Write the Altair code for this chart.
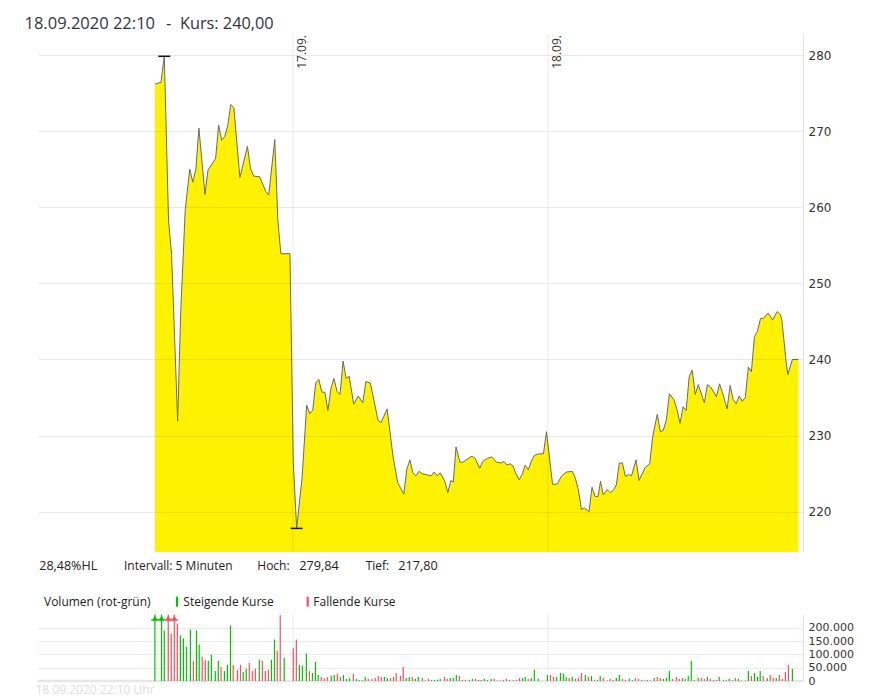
import altair as alt
import pandas as pd

# ---------------- data ----------------
# time axis: minutes of trading time since 16.09. 08:00 (three days of 840 min)
day_start = [840, 1680]
day_label = ["17.09.", "18.09."]

price_t = [385, 405, 416, 430, 440, 460, 470, 485, 500, 510,
           520, 530, 550, 560, 585, 595, 605, 615, 625, 635,
           645, 665, 690, 700, 710, 730, 750, 760, 780, 790,
           800, 830, 841, 852, 870, 885, 895, 905, 915, 925,
           935, 945, 955, 965, 975, 985, 995, 1005, 1015, 1025,
           1040, 1055, 1070, 1080, 1095, 1120, 1130, 1150, 1170, 1185,
           1205, 1215, 1225, 1235, 1245, 1255, 1265, 1295, 1305, 1315,
           1325, 1340, 1350, 1360, 1368, 1377, 1390, 1400, 1410, 1430,
           1440, 1455, 1465, 1480, 1495, 1510, 1525, 1535, 1545, 1555,
           1565, 1575, 1585, 1595, 1605, 1615, 1625, 1635, 1650, 1665,
           1675, 1695, 1710, 1725, 1740, 1760, 1770, 1780, 1790, 1800,
           1815, 1825, 1835, 1845, 1853, 1862, 1875, 1885, 1895, 1905,
           1915, 1925, 1935, 1945, 1955, 1970, 1980, 2000, 2015, 2025,
           2040, 2050, 2060, 2070, 2080, 2095, 2105, 2115, 2125, 2135,
           2145, 2155, 2165, 2175, 2195, 2205, 2215, 2235, 2245, 2255,
           2270, 2280, 2290, 2300, 2310, 2320, 2330, 2340, 2350, 2360,
           2370, 2380, 2390, 2405, 2420, 2435, 2445, 2450, 2465, 2470,
           2485, 2505]
price = [276.2, 276.4, 279.84, 258.3, 253.8, 231.9, 246.1, 259.7, 265.0, 263.3,
         265.0, 270.4, 261.7, 264.9, 266.4, 270.8, 268.8, 269.3, 270.7, 273.5,
         273.1, 263.9, 268.0, 265.1, 264.1, 264.0, 262.1, 261.6, 268.9, 258.3,
         253.9, 253.9, 226.5, 217.8, 224.5, 234.0, 232.9, 233.3, 236.9, 237.4,
         235.7, 235.7, 233.3, 236.2, 237.5, 235.8, 235.4, 239.8, 237.5, 237.8,
         234.1, 235.2, 234.3, 237.1, 236.9, 232.0, 231.7, 233.5, 227.1, 223.8,
         222.3, 225.6, 226.8, 225.1, 224.7, 225.3, 225.0, 224.7, 225.2, 224.7,
         225.1, 224.0, 222.5, 224.1, 223.9, 228.5, 226.5, 226.5, 226.8, 227.3,
         227.0, 225.7, 226.6, 227.0, 227.2, 226.5, 226.4, 226.6, 226.1, 226.3,
         226.0, 224.9, 224.2, 224.9, 226.1, 225.5, 226.6, 227.4, 227.6, 227.6,
         230.5, 223.6, 223.6, 224.7, 225.2, 225.3, 224.4, 222.9, 220.3, 220.5,
         220.0, 223.2, 222.0, 222.0, 224.0, 222.2, 222.9, 222.5, 222.8, 223.5,
         226.4, 226.4, 224.6, 224.9, 224.7, 226.8, 224.1, 225.8, 226.3, 229.9,
         232.8, 230.5, 230.7, 232.1, 235.5, 234.7, 233.4, 231.6, 233.8, 233.3,
         237.7, 238.6, 235.4, 236.7, 234.3, 236.7, 236.4, 235.1, 236.8, 235.6,
         233.5, 236.6, 234.7, 234.2, 235.2, 234.5, 235.0, 239.0, 238.4, 243.0,
         243.7, 245.4, 245.4, 246.1, 245.2, 246.3, 245.9, 245.3, 239.5, 238.0,
         240.0, 240.0]

vol_t = [385, 407, 416, 429, 439, 449, 459, 469, 479, 489,
         502, 512, 522, 531, 541, 551, 561, 571, 584, 594,
         603, 614, 624, 634, 643, 657, 667, 676, 686, 696,
         706, 716, 729, 739, 749, 759, 769, 779, 788, 798,
         811, 841, 851, 861, 871, 884, 894, 904, 914, 923,
         933, 943, 953, 966, 976, 986, 996, 1006, 1016, 1026,
         1039, 1049, 1058, 1068, 1078, 1088,
         1100, 1111, 1121, 1131, 1141, 1151, 1161, 1171, 1180, 1194,
         1203, 1213, 1223, 1233, 1243, 1253, 1266, 1276, 1286, 1296,
         1306, 1316, 1325, 1339, 1348, 1358, 1368, 1378, 1388, 1398,
         1408, 1421, 1431, 1441, 1451, 1460, 1470, 1480, 1493, 1503,
         1513, 1523, 1533, 1543, 1553, 1566, 1576, 1586, 1596, 1605,
         1615, 1625, 1635, 1648, 1678, 1688, 1698, 1708, 1721, 1731,
         1740, 1750, 1760, 1770, 1780, 1790, 1803,
         1813, 1823, 1833, 1843, 1852, 1862, 1876, 1885, 1895, 1905,
         1915, 1925, 1935, 1948, 1958, 1968, 1978, 1988, 1997, 2007,
         2017, 2030, 2040, 2050, 2060, 2070, 2080, 2090, 2103, 2113,
         2123, 2132, 2142, 2152, 2162, 2175, 2185, 2195, 2205, 2215,
         2225, 2235, 2244, 2258, 2267, 2277, 2287, 2297, 2307, 2317,
         2330, 2340, 2350, 2360, 2370, 2379, 2389, 2402, 2412, 2422,
         2432, 2442, 2452, 2462, 2472, 2485]
vol_k = [320, 300, 190, 290, 178, 270, 216, 171, 160, 129,
         194, 76, 190, 137, 91, 80, 76, 99, 38, 76,
         53, 38, 61, 209, 61, 42, 61, 34, 46, 68,
         38, 46, 80, 76, 38, 42, 80, 156, 114, 247,
         87, 122, 156, 61, 57, 103, 38, 30, 72, 23,
         15, 11, 15, 19, 23, 27, 15, 23, 8, 11,
         27, 8, 4, 4, 15, 8,
         8, 11, 19, 15, 15, 11, 11, 15, 30, 19,
         53, 11, 15, 15, 8, 15, 11, 2, 8, 4,
         4, 4, 8, 15, 8, 11, 11, 23, 19, 4,
         4, 4, 8, 8, 4, 4, 8, 4, 8, 8,
         2, 2, 4, 8, 4, 4, 4, 11, 11, 15,
         8, 11, 42, 8, 23, 23, 15, 15, 30, 27,
         15, 11, 15, 8, 11, 30, 23,
         15, 19, 4, 4, 19, 11, 2, 8, 4, 11,
         23, 8, 4, 8, 4, 11, 8, 4, 2, 4,
         2, 11, 15, 11, 8, 11, 38, 8, 15, 8,
         11, 8, 19, 76, 4, 11, 11, 8, 15, 8,
         4, 4, 15, 4, 4, 8, 4, 11, 8, 2,
         2, 38, 19, 30, 15, 38, 19, 11, 23, 11,
         11, 23, 8, 34, 61, 46]
vol_dir = list("GGGRRRRGGG" "GRGGRRGGGG" "RGGGRRRGGR" "RRGRRRGGRR"
               "GRRGGGRGGG" "RRRGGRRGGG" "RGGRGR"
               "RRRRGGRRRR" "RGGRGGRRRG" "GGGRRGGGRG" "GGGRGGGGGR"
               "RGRRGRRRGG" "RGGGGRRGGG" "GRGRRRG"
               "RGRGGRGRRG" "GRRGGRRRGG" "GGRRGGGRRR" "GRGGRGRRGR"
               "RRGRRGRRGR" "GGRGGGRGRR" "GRRRRG")

PRICE_MIN, PRICE_MAX = 214.7, 282.9
VOL_MAX = 250000
X_MAX = 2520
GREEN, RED = "#00c400", "#ff4d5c"

# ---------------- frames ----------------
pdf = pd.DataFrame({"t": price_t, "kurs": price})
pdf["base"] = PRICE_MIN
hi = pdf.loc[pdf.kurs.idxmax()]
lo = pdf.loc[pdf.kurs.idxmin()]
extremes = pd.DataFrame([hi, lo])
last = pdf.kurs.iloc[-1]


def de(v):
    return f"{v:.2f}".replace(".", ",")


vdf = pd.DataFrame({"t": vol_t, "vol": [k * 1000 for k in vol_k],
                    "dir": ["Steigend" if d == "G" else "Fallend" for d in vol_dir]})
vdf["zero"] = 0
clipped = vdf[vdf.vol > VOL_MAX].copy()
clipped["arrow"] = VOL_MAX * 0.945
clipped["abase"] = VOL_MAX * 0.92

days = pd.DataFrame({"t": day_start, "label": day_label,
                     "ptop": PRICE_MAX, "pbot": PRICE_MIN, "vtop": VOL_MAX, "vbot": 0})

W, H = 765, 648
PRICE_H = 519
VOL_TOP = 581.5

x_enc = alt.X("t:Q", scale=alt.Scale(domain=[0, X_MAX], nice=False, zero=False), axis=None)
color_enc = alt.Color("dir:N", scale=alt.Scale(domain=["Steigend", "Fallend"], range=[GREEN, RED]),
                      legend=None)

p_scale = alt.Scale(domain=[PRICE_MIN, PRICE_MAX], range=[PRICE_H, 0], nice=False, zero=False)
p_axis = alt.Axis(orient="right", values=[220, 230, 240, 250, 260, 270, 280], grid=True,
                  gridColor="#000000", gridOpacity=0.08, ticks=False, domain=True,
                  domainColor="#e4e4e4", labelPadding=5, labelFont="DejaVu Sans",
                  labelFontSize=12, labelColor="#333333", title=None, zindex=1)

v_scale = alt.Scale(domain=[0, VOL_MAX], range=[H, VOL_TOP], nice=False, zero=True, clamp=True)
v_axis = alt.Axis(orient="right", values=[0, 50000, 100000, 150000, 200000], grid=True,
                  gridColor="#ebebeb", ticks=False, domain=True, domainColor="#e4e4e4",
                  labelPadding=5, labelFont="DejaVu Sans", labelFontSize=11,
                  labelColor="#333333", title=None,
                  labelExpr="replace(format(datum.value, ','), ',', '.')")

# ---------------- price panel ----------------
area = alt.Chart(pdf).mark_area(
    color="#fff200", opacity=1, fillOpacity=1, interpolate="linear",
    line={"color": "#6a6a6a", "strokeWidth": 1}
).encode(x=x_enc, y=alt.Y("kurs:Q", scale=p_scale, axis=p_axis), y2="base:Q")

p_days = alt.Chart(days).mark_rule(color="#000000", opacity=0.08, strokeWidth=1).encode(
    x=x_enc, y=alt.Y("ptop:Q", scale=p_scale, axis=p_axis), y2="pbot:Q")

p_ext = alt.Chart(extremes).mark_tick(orient="horizontal", size=12, thickness=1.5,
                                      color="#111111", opacity=1).encode(
    x=x_enc, y=alt.Y("kurs:Q", scale=p_scale, axis=p_axis))

p_lab = alt.Chart(days).mark_text(angle=270, align="right", baseline="alphabetic", dy=12.6,
                                  font="Open Sans", fontSize=12, color="#333333").encode(
    x=x_enc, y=alt.value(2), text="label:N")

price_layer = alt.layer(area, p_days, p_ext, p_lab)

# ---------------- volume panel ----------------
v_base = alt.Chart(pd.DataFrame({"v": [0]})).mark_rule(color="#e6e6e6", strokeWidth=2.5).encode(
    y=alt.Y("v:Q", scale=v_scale, axis=v_axis))

v_days = alt.Chart(days).mark_rule(color="#ebebeb", strokeWidth=1).encode(
    x=x_enc, y=alt.Y("vtop:Q", scale=v_scale, axis=v_axis), y2="vbot:Q")

bars = alt.Chart(vdf).mark_rule(strokeWidth=1.2).encode(
    x=x_enc, y=alt.Y("vol:Q", scale=v_scale, axis=v_axis), y2="zero:Q", color=color_enc)

arrows = alt.Chart(clipped).mark_point(shape="triangle-up", filled=True, size=36, opacity=1).encode(
    x=x_enc, y=alt.Y("arrow:Q", scale=v_scale, axis=v_axis), color=color_enc)

arrow_base = alt.Chart(clipped).mark_tick(orient="horizontal", size=8, thickness=1, opacity=1).encode(
    x=x_enc, y=alt.Y("abase:Q", scale=v_scale, axis=v_axis), color=color_enc)

vol_layer = alt.layer(v_base, v_days, bars, arrows, arrow_base)

# ---------------- annotations ----------------
one = alt.Data(values=[{}])


def txt(s, x, y, size=12, color="#222222", font="Open Sans"):
    return alt.Chart(one).mark_text(align="left", baseline="alphabetic", font=font,
                                    fontSize=size, color=color).encode(
        x=alt.value(x), y=alt.value(y), text=alt.value(s))


def swatch(x, col):
    return alt.Chart(one).mark_rule(color=col, strokeWidth=2.2).encode(
        x=alt.value(x), y=alt.value(563.7), y2=alt.value(573.7))


hl = (hi.kurs - lo.kurs) / lo.kurs * 100
ann = [
    txt("18.09.2020 22:10", -13.5, -4, size=16.5, color="#2f3440"),
    txt("-", 128, -4, size=16.5, color="#2f3440"),
    txt("Kurs: " + de(last), 142, -4, size=16.3, color="#2f3440"),
    txt(de(hl) + "%HL", 1.3, 537, size=12.5),
    txt("Intervall: 5 Minuten", 86, 537),
    txt("Hoch:", 219.3, 537),
    txt(de(hi.kurs), 261.3, 537, size=12.7),
    txt("Tief:", 327.7, 537),
    txt(de(lo.kurs), 360.3, 537, size=12.7),
    txt("Volumen (rot-grün)", 6, 573),
    swatch(139, GREEN),
    txt("Steigende Kurse", 145.3, 573),
    swatch(269.7, RED),
    txt("Fallende Kurse", 275.3, 573),
    txt("18.09.2020 22:10 Uhr", -2.5, 661, size=12, color="#dedede"),
]

chart = alt.layer(price_layer, vol_layer, *ann).resolve_scale(y="independent").properties(
    width=W, height=H,
    autosize=alt.AutoSizeParams(type="none"),
    padding={"left": 30, "top": 25, "right": 60, "bottom": 16},
).configure_view(stroke=None)

chart.save("out.html", embed_options={"renderer": "svg", "actions": False})
